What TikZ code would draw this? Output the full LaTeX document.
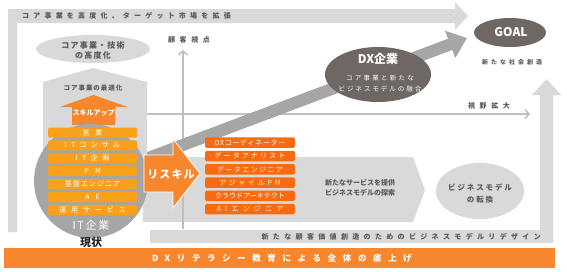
\documentclass[tikz,border=0pt]{standalone}
\usepackage{fontspec}
\setmainfont{Noto Sans CJK JP}
\usepackage{xcolor}
\usepackage{tikz}
\usetikzlibrary{arrows.meta}

\definecolor{lgray}{HTML}{D9D9D9}
\definecolor{mgray}{HTML}{A6A6A6}
\definecolor{dgray}{HTML}{6E6764}
\definecolor{txtgray}{HTML}{595959}
\definecolor{axisgray}{HTML}{BFBFBF}
\definecolor{barorange}{HTML}{F7862C}
\definecolor{ambr}{HTML}{F9A11B}
\definecolor{redorange}{HTML}{FA6A0F}

\newcommand\lsp[2]{{\addfontfeature{LetterSpace=#1}#2}}
\newcommand\fsz[2]{\fontsize{#1}{#2}\selectfont}

\begin{document}
\begin{tikzpicture}[x=1pt,y=-1pt,
    lbl/.style={text=txtgray,inner sep=0pt,font=\fsz{7}{8}\bfseries},
    boldlbl/.style={lbl,font=\fsz{7}{10}\bfseries,align=center},
    whitelbl/.style={text=white,inner sep=0pt,align=center},
    rolebox/.style={fill=ambr,rounded corners=1.5pt,minimum width=89pt,minimum height=10pt,
      inner sep=0pt,text=white,font=\fsz{7}{8}},
    newrole/.style={rolebox,fill=redorange,minimum width=90pt,minimum height=10.5pt},
    axisline/.style={draw=axisgray,line width=1.5pt,-{Straight Barb[length=4pt,width=9pt]}},
    diagband/.style={draw=mgray,line width=12pt,-{Triangle[width=28pt,length=18pt]}}]
  \useasboundingbox (0,0) rectangle (567,271);

  % outer bands
  \fill[lgray] (8,232) -- (8,9) -- (455,9) -- (455,2) -- (468,16) -- (455,30) -- (455,23)
    -- (17,23) -- (17,232) -- cycle;
  \node[lbl,anchor=west] (widen) at (22,16) {\lsp{60}{コア事業を高度化、ターゲット市場を拡張}};

  \fill[lgray] (150,230) -- (540,230) -- (540,95) -- (532,95) -- (546.5,79) -- (561,95)
    -- (553,95) -- (553,243) -- (150,243) -- cycle;
  \node[lbl,anchor=east] (redesign) at (541,236.5) {\lsp{62}{新たな顧客価値創造のためのビジネスモデルリデザイン}};

  \fill[barorange] (4,248) rectangle (555,268);
  \node[whitelbl,font=\fsz{8.5}{10}\bfseries] (literacy) at (282,258) {\lsp{78}{DXリテラシー教育による全体の底上げ}};

  % exploration band
  \fill[lgray] (143,157) -- (413,157) -- (425,190) -- (413,222) -- (143,222) -- cycle;
  \node[boldlbl] (explore) at (360,188) {新たなサービスを提供\\ビジネスモデルの探索};

  \fill[lgray] (480,191) ellipse [x radius=44pt,y radius=28pt];
  \node[boldlbl,font=\fsz{7.5}{12}\bfseries] (bizshift) at (480,194) {\lsp{25}{ビジネスモデル}\\\lsp{25}{の転換}};

  % axes
  \coordinate (origin) at (183,229);
  \coordinate (axtop) at (183,50);
  \coordinate (axleft) at (147,114);
  \coordinate (axright) at (530,114);
  \draw[axisline] (origin) -- (axtop);
  \draw[axisline] (axleft) -- (axright);
  \node[lbl] (custview) at (189,40) {\lsp{65}{顧客視点}};
  \node[lbl] (viewwide) at (489,106) {\lsp{65}{視野拡大}};

  % path to the goal
  \coordinate (diagS) at (143,160);
  \coordinate (diagE) at (467,38);
  \draw[diagband] (diagS) -- (diagE);

  \fill[dgray] (378,74.5) ellipse [x radius=53pt,y radius=27.5pt];
  \node[whitelbl,font=\fsz{12}{14}\bfseries] (dxco) at (378,59) {DX企業};
  \node[whitelbl,font=\fsz{6.5}{11}] (dxsub) at (380,83.5) {\lsp{35}{コア事業と新たな}\\\lsp{30}{ビジネスモデルの融合}};

  \fill[dgray] (510,32.5) ellipse [x radius=36pt,y radius=14.5pt];
  \node[whitelbl,font=\fsz{12}{13}\bfseries] (goal) at (511,32.5) {GOAL};
  \node[lbl,font=\fsz{6}{7}\bfseries] (society) at (512,62) {\lsp{50}{新たな社会創造}};

  % left column
  \fill[lgray] (93,49) ellipse [x radius=57pt,y radius=14pt];
  \node[boldlbl,font=\fsz{8}{10}\bfseries] (coreup) at (93,50) {\lsp{15}{コア事業・技術}\\\lsp{15}{の高度化}};

  \fill[lgray] (43,190) -- (43,82) -- (93,68) -- (147,82) -- (147,190) -- cycle;
  \node[lbl,font=\fsz{6.5}{8}\bfseries] (coreopt) at (93,88) {\lsp{15}{コア事業の最適化}};

  \fill[barorange] (72,125) -- (72,107) -- (60,107) -- (93.5,95) -- (128,107) -- (115,107)
    -- (115,125) -- cycle;
  \node[whitelbl,font=\fsz{7}{8}\bfseries] (skillup) at (93.5,113) {スキルアップ};

  \fill[mgray] (91,181) circle [radius=57pt];
  \foreach \txt/\sp [count=\i from 0] in {営業/85,ITコンサル/60,IT企画/65,PM/90,基盤エンジニア/15,AE/85,運用サービス/70}
    \node[rolebox] (cur\i) at (92.5,{132.5+12.9*\i}) {\lsp{\sp}{\txt}};
  \node[whitelbl,font=\fsz{11}{12}] (itco) at (91,225) {\lsp{15}{IT企業}};
  \node[inner sep=0pt,text=black!85,font=\fsz{11}{12}\bfseries] (now) at (91,242) {現状};

  % reskilling
  \filldraw[fill=barorange,draw=white,line width=0.8pt] (144,155) -- (173,155) -- (173,139)
    -- (200,173.5) -- (173,208) -- (173,192) -- (144,192) -- cycle;
  \node[whitelbl,font=\fsz{11}{12}\bfseries] (reskill) at (171,174) {\lsp{10}{リスキル}};

  \foreach \txt/\sp [count=\i from 0] in {DXコーディネーター/10,データアナリスト/30,データエンジニア/20,アジャイルPM/40,クラウドアーキテクト/0,AIエンジニア/60}
    \node[newrole] (dx\i) at (250,{142.7+13.3*\i}) {\lsp{\sp}{\txt}};
\end{tikzpicture}
\end{document}
